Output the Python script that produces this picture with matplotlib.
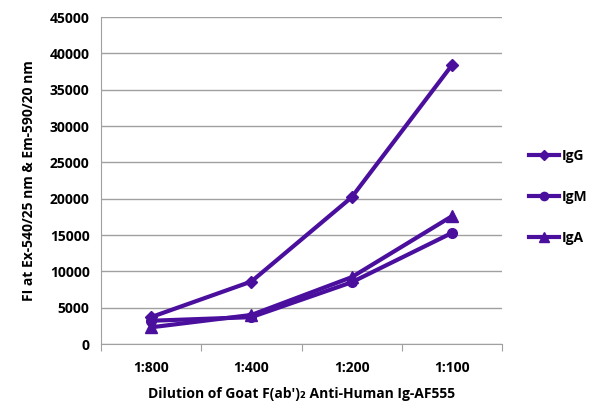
import numpy as np
import matplotlib
matplotlib.use("Agg")
import matplotlib.pyplot as plt

plt.rcParams['font.family'] = ['Open Sans', 'DejaVu Sans']
plt.rcParams['font.weight'] = 'bold'

dilutions = ["1:800", "1:400", "1:200", "1:100"]
igg = [3700, 8600, 20200, 38400]
igm = [3200, 3700, 8500, 15300]
iga = [2300, 4000, 9200, 17600]

purple = '#4b0f9e'
x = np.arange(1, len(dilutions) + 1)

fig = plt.figure(figsize=(6, 4.17), dpi=100)
ax = fig.add_axes([0.168, 0.175, 0.669, 0.784])

ax.plot(x, igg, color=purple, lw=3, marker='D', ms=6, label='IgG')
ax.plot(x, igm, color=purple, lw=3, marker='o', ms=7, label='IgM')
ax.plot(x, iga, color=purple, lw=3, marker='^', ms=8, label='IgA')

ax.set_xlim(0.5, 4.5)
ax.set_ylim(0, 45000)
ax.set_yticks(np.arange(0, 45001, 5000))
ax.yaxis.grid(True, color='#a0a0a0', lw=1)
ax.set_axisbelow(True)

# category boundaries as major ticks, labels on minor ticks
ax.set_xticks(np.arange(0.5, 4.6, 1))
ax.set_xticklabels([])
ax.set_xticks(x, minor=True)
ax.set_xticklabels(dilutions, minor=True)
ax.tick_params(axis='x', which='major', length=5, color='#a0a0a0', direction='out')
ax.tick_params(axis='x', which='minor', length=0, pad=12, labelsize=10)
ax.tick_params(axis='y', length=0, pad=8, labelsize=10)

for s in ['top', 'right']:
    ax.spines[s].set_visible(False)
for s in ['left', 'bottom']:
    ax.spines[s].set_color('#a0a0a0')

ax.set_xlabel("Dilution of Goat F(ab')\u2082 Anti-Human Ig-AF555", fontsize=10, fontweight='bold', labelpad=9)
ax.set_ylabel("FI at Ex-540/25 nm & Em-590/20 nm", fontsize=10, fontweight='bold', labelpad=10)

fig.legend(loc='center left', bbox_to_anchor=(0.86, 0.527), frameon=False,
           fontsize=10, labelspacing=1.95, handlelength=2.2, handletextpad=0.2,
           markerscale=0.85)

plt.savefig("out.png", dpi=100)
